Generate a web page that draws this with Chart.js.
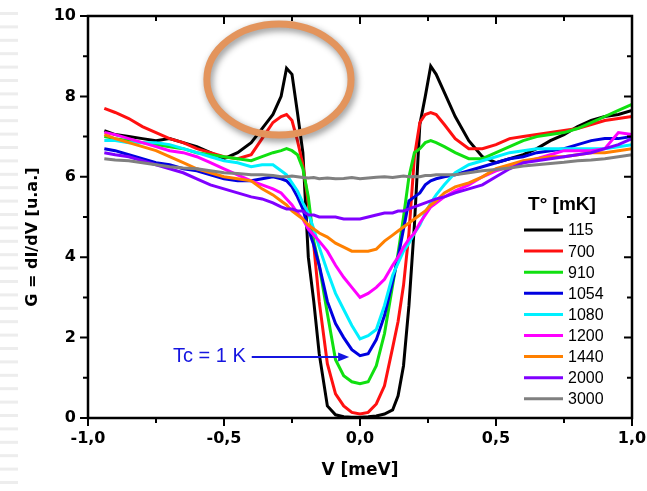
<!DOCTYPE html>
<html>
<head>
<meta charset="utf-8">
<script src="https://cdn.jsdelivr.net/npm/chart.js@4/dist/chart.umd.min.js"></script>
<style>
html,body{margin:0;padding:0;background:#fff}
</style>
</head>
<body>
<canvas id="gapChart" width="647" height="491"></canvas>
<script>
Chart.defaults.font.family = "'DejaVu Sans', sans-serif"
Chart.defaults.color = '#000'

// bias voltage (meV), shared by every curve
const voltage = [-0.94,-0.9,-0.85,-0.8,-0.75,-0.7,-0.65,-0.6,-0.55,-0.5,-0.45,-0.4,
    -0.36,-0.32,-0.29,-0.27,-0.25,-0.23,-0.21,-0.19,-0.17,-0.15,
    -0.12,-0.09,-0.06,-0.03,0,0.03,0.06,0.09,0.12,
    0.14,0.16,0.18,0.2,0.22,0.24,0.26,0.28,
    0.31,0.35,0.4,0.45,0.5,0.55,0.6,0.65,0.7,0.75,0.8,0.85,0.9,0.95,1.0]

const temps = ['115','700','910','1054','1080','1200','1440','2000','3000']
const colors = ['#000000','#ff1010','#10e010','#0000e0','#00f0ff','#ff00ff','#ff8000','#8000ff','#808080']

const g115 = [7.15,7.05,7.0,6.95,6.9,6.95,6.85,6.75,6.6,6.45,6.6,6.85,
    7.2,7.55,8.0,8.7,8.55,7.6,6.6,4.0,2.9,1.6,
    0.3,0.08,0.03,0.02,0.02,0.03,0.05,0.1,0.2,
    0.55,1.3,2.8,4.8,7.3,8.0,8.75,8.55,
    8.1,7.5,6.9,6.5,6.35,6.45,6.55,6.7,6.9,7.05,7.25,7.4,7.5,7.55,7.65]
const g700 = [7.7,7.6,7.45,7.25,7.1,6.95,6.85,6.7,6.6,6.5,6.45,6.55,
    6.95,7.35,7.5,7.55,7.4,6.9,6.3,5.35,4.3,2.9,
    1.35,0.6,0.3,0.14,0.1,0.14,0.35,0.8,1.75,
    2.4,3.3,4.6,6.5,7.35,7.55,7.6,7.55,
    7.3,6.95,6.7,6.7,6.8,6.95,7.0,7.05,7.1,7.15,7.2,7.3,7.4,7.45,7.5]
const g910 = [7.0,6.95,6.9,6.85,6.8,6.75,6.7,6.6,6.55,6.5,6.45,6.4,
    6.5,6.6,6.65,6.7,6.65,6.55,6.2,5.5,4.4,3.8,
    2.6,1.45,1.05,0.9,0.85,0.9,1.3,2.1,3.3,
    4.1,5.0,6.0,6.6,6.7,6.85,6.9,6.85,
    6.75,6.6,6.45,6.45,6.6,6.75,6.9,7.0,7.05,7.1,7.2,7.35,7.5,7.65,7.8]
const g1054 = [6.7,6.65,6.55,6.45,6.35,6.3,6.2,6.15,6.05,5.95,5.9,5.9,
    5.95,6.0,5.95,5.9,5.75,5.5,5.2,4.7,4.3,3.8,
    2.9,2.35,2.0,1.7,1.55,1.6,1.95,2.55,3.4,
    4.0,4.7,5.4,5.5,5.6,5.8,5.9,5.95,
    6.0,6.05,6.15,6.25,6.35,6.45,6.5,6.6,6.65,6.7,6.8,6.9,6.95,6.95,7.0]
const g1080 = [6.9,6.9,6.85,6.85,6.85,6.8,6.7,6.6,6.5,6.4,6.35,6.25,
    6.3,6.3,6.15,6.05,5.85,5.65,5.35,5.1,4.7,4.25,
    3.65,3.1,2.7,2.3,1.97,2.05,2.2,2.8,3.55,
    3.85,4.15,4.35,4.6,4.8,5.1,5.35,5.55,
    5.8,6.1,6.3,6.4,6.5,6.6,6.65,6.7,6.7,6.7,6.7,6.7,6.7,6.75,6.8]
const g1200 = [7.1,7.05,6.95,6.85,6.75,6.65,6.6,6.5,6.35,6.2,6.05,5.9,
    5.8,5.7,5.6,5.45,5.3,5.1,4.95,4.7,4.55,4.4,
    4.15,3.8,3.5,3.25,3.0,3.1,3.25,3.45,3.8,
    4.0,4.25,4.45,4.6,4.85,5.05,5.25,5.35,
    5.5,5.65,5.8,6.0,6.15,6.25,6.35,6.45,6.55,6.65,6.65,6.65,6.7,7.1,7.05]
const g1440 = [7.05,6.95,6.85,6.75,6.65,6.5,6.35,6.2,6.1,6.0,5.95,5.9,
    5.7,5.55,5.4,5.3,5.15,5.05,4.95,4.8,4.7,4.6,
    4.5,4.35,4.25,4.15,4.15,4.15,4.2,4.4,4.55,
    4.65,4.75,4.85,4.95,5.05,5.15,5.3,5.4,
    5.6,5.75,5.85,6.0,6.2,6.3,6.4,6.45,6.5,6.5,6.55,6.6,6.6,6.65,6.7]
const g2000 = [6.6,6.55,6.5,6.4,6.3,6.2,6.1,5.95,5.8,5.7,5.6,5.5,
    5.45,5.35,5.25,5.2,5.2,5.15,5.15,5.05,5.05,5.0,
    5.0,5.0,4.95,4.95,4.95,5.0,5.05,5.1,5.1,
    5.15,5.15,5.2,5.25,5.3,5.35,5.4,5.45,
    5.5,5.6,5.7,5.8,6.0,6.2,6.35,6.4,6.45,6.5,6.55,6.6,6.7,6.8,6.95]
const g3000 = [6.45,6.42,6.4,6.35,6.3,6.25,6.22,6.2,6.15,6.1,6.08,6.05,
    6.05,6.03,6.0,6.0,6.02,6.0,5.98,5.97,5.98,5.95,
    5.97,5.95,5.96,5.98,5.95,5.97,5.99,6.0,5.98,
    6.0,6.02,6.0,6.01,6.0,6.03,6.03,6.05,
    6.05,6.05,6.1,6.15,6.18,6.22,6.27,6.3,6.33,6.36,6.4,6.42,6.45,6.5,6.55]

const curves = [g115,g700,g910,g1054,g1080,g1200,g1440,g2000,g3000]

// annotations (data units)
const ring = {v:-0.298, g:8.42, rv:0.265, rg:1.38}
const tcArrow = {from:-0.398, to:-0.04, g:1.52, text:'Tc = 1 K'}
const yTitle = 'G = dI/dV [u.a.]'

const datasets = curves.map((c, i) => ({
    label: temps[i],
    data: voltage.map((v, k) => ({x: v, y: c[k]})),
    borderColor: colors[i],
    borderWidth: 3,
    pointRadius: 0,
    fill: false,
    order: curves.length - i
}))

const tickFont = {size: 16, weight: 'bold'}
const titleFont = {size: 17, weight: 'bold'}

const background = {
    id: 'background',
    beforeDraw(chart) {
        const {ctx, width, height} = chart
        ctx.save()
        ctx.fillStyle = '#fff'
        ctx.fillRect(0, 0, width, height)
        ctx.fillStyle = '#ededed'
        for (let yy = 12; yy < height - 5; yy += 13.4) ctx.fillRect(0, yy, 18, 3)
        ctx.restore()
    }
}

const frame = {
    id: 'frame',
    afterDraw(chart) {
        const {ctx, chartArea: a, scales: {x, y}} = chart
        ctx.save()
        ctx.strokeStyle = '#000'
        ctx.lineWidth = 2.5
        ctx.strokeRect(a.left, a.top, a.right - a.left, a.bottom - a.top)
        ctx.lineWidth = 2
        ctx.beginPath()
        const xt = x.ticks.map(t => t.value)
        const yt = y.ticks.map(t => t.value)
        const mark = (vals, len) => {
            vals.forEach(v => {
                const px = x.getPixelForValue(v)
                ctx.moveTo(px, a.bottom); ctx.lineTo(px, a.bottom + len)
                ctx.moveTo(px, a.top); ctx.lineTo(px, a.top + len)
            })
        }
        const markY = (vals, len) => {
            vals.forEach(v => {
                const py = y.getPixelForValue(v)
                ctx.moveTo(a.left, py); ctx.lineTo(a.left - len, py)
                ctx.moveTo(a.right, py); ctx.lineTo(a.right - len, py)
            })
        }
        mark(xt, 8)
        mark(xt.slice(1).map((v, i) => (v + xt[i]) / 2), 5)
        markY(yt, 8)
        markY(yt.slice(1).map((v, i) => (v + yt[i]) / 2), 5)
        ctx.stroke()

        // y title, sits a bit below the middle of the axis
        ctx.save()
        ctx.translate(33, y.getPixelForValue(4.5))
        ctx.rotate(-Math.PI / 2)
        ctx.font = "bold 16px 'DejaVu Sans'"
        ctx.fillStyle = '#000'
        ctx.textAlign = 'center'
        ctx.textBaseline = 'middle'
        ctx.fillText(yTitle, 0, 0)
        ctx.restore()

        // legend box
        const lx = a.right - 108, ly = a.top + 214
        ctx.fillStyle = '#000'
        ctx.font = "bold 19px 'Liberation Sans', Arial"
        ctx.textAlign = 'center'
        ctx.textBaseline = 'middle'
        ctx.fillText('T° [mK]', lx + 38, ly - 25)
        ctx.font = "16px 'Liberation Sans', Arial"
        ctx.textAlign = 'left'
        temps.forEach((t, i) => {
            const yy = ly + i * 21.1
            ctx.strokeStyle = colors[i]
            ctx.lineWidth = 3
            ctx.beginPath()
            ctx.moveTo(lx, yy); ctx.lineTo(lx + 39, yy)
            ctx.stroke()
            ctx.fillText(t, lx + 44, yy + 1)
        })
        ctx.restore()
    }
}

const notes = {
    id: 'notes',
    afterDatasetsDraw(chart) {
        const {ctx, scales: {x, y}} = chart
        ctx.save()
        // orange ring
        const cx = x.getPixelForValue(ring.v), cy = y.getPixelForValue(ring.g)
        const rx = x.getPixelForValue(ring.v + ring.rv) - cx
        const ry = cy - y.getPixelForValue(ring.g + ring.rg)
        ctx.shadowColor = 'rgba(0,0,0,0.45)'
        ctx.shadowBlur = 7
        ctx.shadowOffsetX = 2
        ctx.shadowOffsetY = 3
        ctx.strokeStyle = '#e3945c'
        ctx.lineWidth = 7
        ctx.beginPath()
        ctx.ellipse(cx, cy, rx, ry, 0, 0, Math.PI * 2)
        ctx.stroke()
        ctx.shadowColor = 'transparent'

        // Tc arrow
        const x0 = x.getPixelForValue(tcArrow.from), x1 = x.getPixelForValue(tcArrow.to)
        const ya = y.getPixelForValue(tcArrow.g)
        ctx.strokeStyle = '#1515e0'
        ctx.fillStyle = '#1515e0'
        ctx.lineWidth = 2
        ctx.beginPath()
        ctx.moveTo(x0, ya); ctx.lineTo(x1 - 8, ya)
        ctx.stroke()
        ctx.beginPath()
        ctx.moveTo(x1, ya); ctx.lineTo(x1 - 11, ya - 4.5); ctx.lineTo(x1 - 11, ya + 4.5)
        ctx.closePath()
        ctx.fill()
        ctx.font = "20px 'Liberation Sans', Arial"
        ctx.textAlign = 'right'
        ctx.textBaseline = 'middle'
        ctx.fillText(tcArrow.text, x0 - 6, ya)
        ctx.restore()
    }
}

new Chart('gapChart', {
    type: 'line',
    data: {datasets},
    options: {
        responsive: false,
        animation: false,
        devicePixelRatio: 1,
        layout: {padding: {top: 16, right: 15, left: 0, bottom: 0}},
        plugins: {legend: {display: false}, tooltip: {enabled: false}},
        scales: {
            x: {
                type: 'linear', min: -1, max: 1,
                grid: {display: false, drawTicks: false},
                border: {display: false},
                ticks: {stepSize: 0.5, font: tickFont, padding: 11, maxRotation: 0,
                    callback: v => v.toFixed(1).replace('.', ',')},
                title: {display: true, text: 'V [meV]', font: titleFont, padding: {bottom: 10}},
                afterFit: s => { s.height = 73; s.paddingLeft = 0; s.paddingRight = 0 }
            },
            y: {
                min: 0, max: 10,
                grid: {display: false, drawTicks: false},
                border: {display: false},
                ticks: {stepSize: 2, font: tickFont, padding: 12},
                afterFit: s => { s.width = 88; s.paddingTop = 0; s.paddingBottom = 0 }
            }
        }
    },
    plugins: [background, frame, notes]
})
</script>
</body>
</html>
